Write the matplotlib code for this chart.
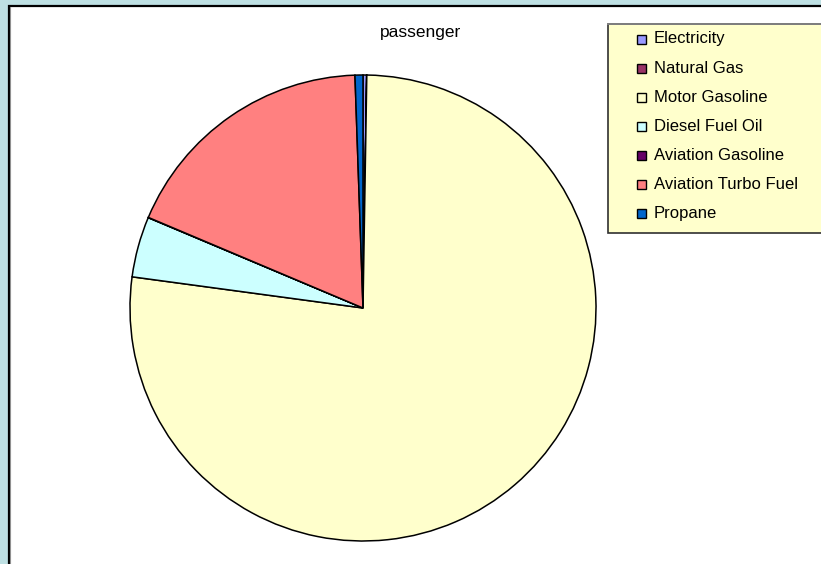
import matplotlib
matplotlib.use("Agg")
import matplotlib.pyplot as plt
from matplotlib.patches import Rectangle

plt.rcParams['font.family'] = ['Liberation Sans', 'DejaVu Sans']

# fuel shares for passenger transport, percent
fuels = ['Electricity', 'Natural Gas', 'Motor Gasoline', 'Diesel Fuel Oil',
         'Aviation Gasoline', 'Aviation Turbo Fuel', 'Propane']
shares = [0.25, 0.01, 76.9, 4.2, 0.02, 18.1, 0.55]
colors = ['#9999FF', '#993366', '#FFFFCC', '#CCFFFF', '#660066', '#FF8080', '#0066CC']

W, H = 821, 564
fig = plt.figure(figsize=(W / 100, H / 100), dpi=100, facecolor='#BEE0E3')

# pixel-space overlay for the chart frame and the legend
bg = fig.add_axes([0, 0, 1, 1], zorder=0)
bg.set_xlim(0, W)
bg.set_ylim(H, 0)
bg.axis('off')
bg.add_patch(Rectangle((8.5, 5.5), W + 20, H + 20, facecolor='white',
                       edgecolor='black', linewidth=1.6))
bg.plot([10.2, 10.2], [7, H + 5], color='#909090', linewidth=0.8)

# pie
cx, cy, r = 363, 308, 233
ax = fig.add_axes([(cx - r) / W, (H - cy - r) / H, 2 * r / W, 2 * r / H], zorder=1)
ax.patch.set_alpha(0)
wedges, _ = ax.pie(shares, colors=colors, startangle=90, counterclock=False, radius=1,
                   wedgeprops=dict(edgecolor='black', linewidth=1.1))
for w in wedges:
    w.set_clip_on(False)
ax.set_xlim(-1, 1)
ax.set_ylim(-1, 1)
ax.set_aspect('auto')

bg.text(421, 32, 'passenger', ha='center', va='center', fontsize=12.5)

# legend box
bg.add_patch(Rectangle((607.5, 23.5), 240, 209, facecolor='#FFFFCC',
                       edgecolor='#303030', linewidth=1.2, zorder=2))
bg.plot([607.5, W], [23.5, 23.5], color='#808080', linewidth=1.4, zorder=3)
for i, (name, col) in enumerate(zip(fuels, colors)):
    y = 39 + i * 29.15
    bg.add_patch(Rectangle((636.5, y - 4.5), 9, 9, facecolor=col,
                           edgecolor='black', linewidth=1.0, zorder=3))
    bg.text(654, y, name, ha='left', va='center', fontsize=12, zorder=3)

fig.savefig('out.png', dpi=100, facecolor=fig.get_facecolor())
